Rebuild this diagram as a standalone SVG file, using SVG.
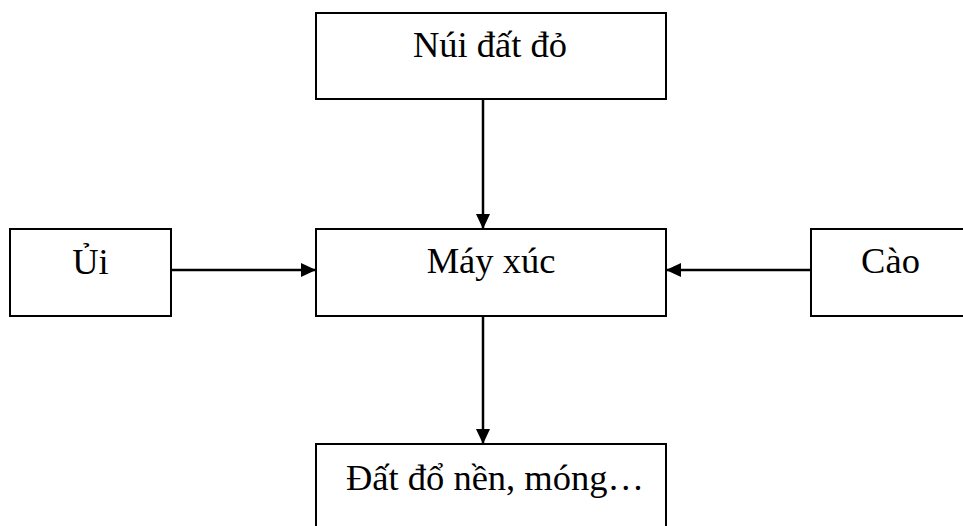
<svg xmlns="http://www.w3.org/2000/svg" width="963" height="526" viewBox="0 0 963 526">
<defs>
<style>
.box{fill:#fff;stroke:#000;stroke-width:2}
.lbl{font-family:"Liberation Serif","Times New Roman",serif;font-size:36.5px;fill:#000;text-anchor:middle}
.edge{stroke:#000;stroke-width:2.5;fill:none}
</style>
<marker id="ah" viewBox="0 0 15 14" refX="15" refY="7" markerWidth="15" markerHeight="14" markerUnits="userSpaceOnUse" orient="auto">
<path d="M0,0 L15,7 L0,14 Z" fill="#000"/>
</marker>
</defs>
<rect width="963" height="526" fill="#fff"/>
<g id="nui">
<rect class="box" x="316" y="13" width="350" height="86"/>
<text class="lbl" x="490" y="57">Núi đất đỏ</text>
</g>
<g id="ui">
<rect class="box" x="10" y="229" width="161" height="87"/>
<text class="lbl" x="90.5" y="274">Ủi</text>
</g>
<g id="mayxuc">
<rect class="box" x="316" y="229" width="350" height="87"/>
<text class="lbl" x="491" y="273">Máy xúc</text>
</g>
<g id="cao">
<rect class="box" x="811" y="229" width="160" height="87"/>
<text class="lbl" x="890.5" y="273">Cào</text>
</g>
<g id="datdo">
<rect class="box" x="316" y="444" width="350" height="90"/>
<text class="lbl" x="495" y="490">Đất đổ nền, móng…</text>
</g>
<g id="connectors">
<line class="edge" x1="483" y1="99" x2="483" y2="229" marker-end="url(#ah)"/>
<line class="edge" x1="171" y1="270" x2="316" y2="270" marker-end="url(#ah)"/>
<line class="edge" x1="811" y1="270" x2="666" y2="270" marker-end="url(#ah)"/>
<line class="edge" x1="483" y1="316" x2="483" y2="444" marker-end="url(#ah)"/>
</g>
</svg>
